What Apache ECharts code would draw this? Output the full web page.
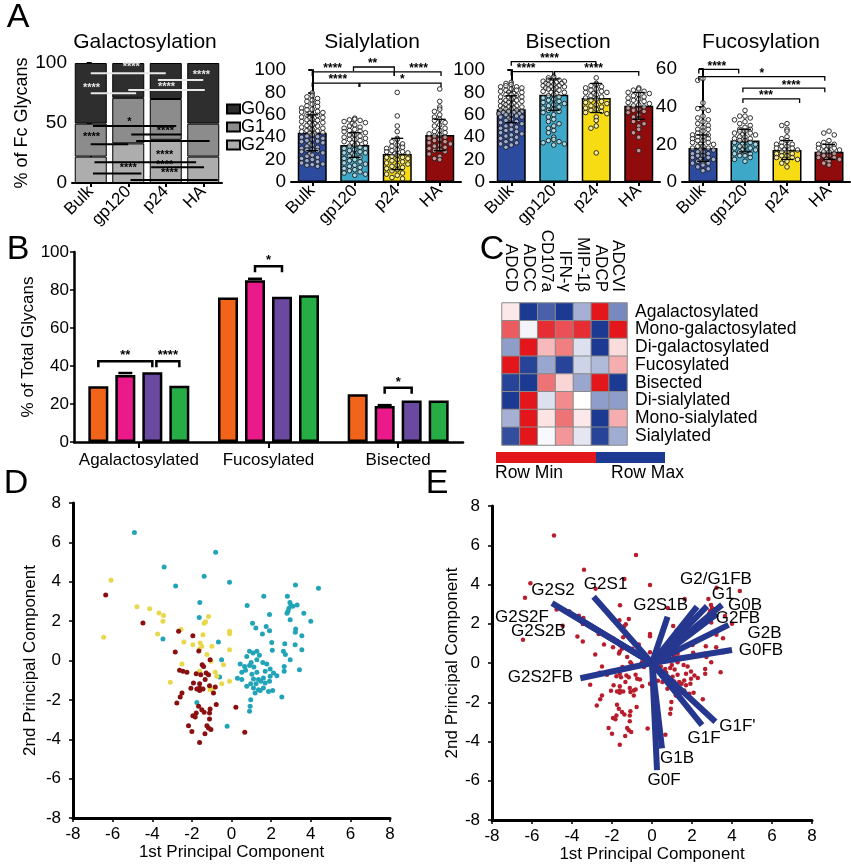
<!DOCTYPE html>
<html><head><meta charset="utf-8">
<script src="https://cdn.jsdelivr.net/npm/echarts@6/dist/echarts.min.js"></script>
<style>html,body{margin:0;padding:0;background:#fff}#c{width:851px;height:866px}</style>
</head><body><div id="c"></div>
<script>
const FONT = 'Arial, "Liberation Sans", Helvetica, sans-serif';

// ---------- Panel A ----------
const groupsA = ['Bulk', 'gp120', 'p24', 'HA'];
const galG2 = [22, 33, 36, 22];
const galG1 = [27.5, 38, 34, 27.5];
const galG0 = [50.5, 29, 30, 50.5];

const sialMean = [44, 33, 25, 42];
const sialSD = [16, 11, 14, 14];
const sialBulk = [79.5,77,76,74.5,73,72,71,69.5,68,67.5,66,65,64.5,63,62.5,62,61,60,60,59.5,58,57.5,57,56,55.5,55,54,53,52.5,52,51,50.5,50,49,48,47.5,47,46,45.5,45,44,43.5,43,42,41,40.5,40,39,38,37,36.5,36,35,34,33,32,31,30,29,28.5,28,27,26,25,24,23,22,21,20,19,18,17,16,15.5,15,14];
const sialGp120 = [57,56,55.5,55,54,53,52,51,50,49,48,47,46,45.5,45,44,43,42,42,41,40,39,38,38,37,36,35,35,34,33,32,31,30,30,29,28,27,26,26,25,24,23,22,21,20,19,18,17,16,15,14,13,12,11,10,9,8,7,6];
const sialP24 = [80,59,50,45,39,38,36,34,33,32,31,30,29,28,27,27,26,25,24,23,22,22,21,20,19,18,17,16,15,14,13,12,11,10,8,7,6,4,3];
const sialHA = [83,72,67,65,63,60,58,56,55,53,51,50,48,46,45,44,43,42,41,40,39,38,37,36,35,34,33,32,31,30,29,28,27,25,23,21,20];

const bisMean = [65, 78, 75, 68];
const bisSD = [12, 14, 13, 12];
const bisBulk = [89,88,87,86,85,85,84,83,82,82,81,80,80,79,78,78,77,76,76,75,75,74,73,73,72,72,71,70,70,69,69,68,68,67,67,66,66,65,65,64,64,63,63,62,62,61,61,60,60,59,58,58,57,56,55,54,53,52,51,50,49,48,47,46,45,44,43,42,41,40,39,38,36,35,34,33,31];
const bisGp120 = [94,93,92,91,91,90,90,89,89,88,88,87,87,86,86,85,85,84,84,83,83,82,81,80,80,79,78,77,76,75,74,73,72,71,70,69,68,67,66,65,64,63,62,60,58,56,54,52,50,48,46,44,40,38,37,36,35,34,33];
const bisP24 = [93,88,87,86,85,84,83,82,81,80,80,79,78,77,76,75,74,73,72,71,70,69,68,67,66,65,64,63,62,61,58,55,50,48,26];
const bisHA = [84,83,82,81,80,79,78,77,76,75,74,73,72,71,70,69,68,67,66,65,64,63,62,60,58,56,54,52,50,47,44,40,28];

const fucMean = [18, 22, 17, 16];
const fucSD = [7, 6, 5, 4];
const fucBulk = [55,54,42,39,39,38,35,34,33,32,31,30,29,28,28,27,26,25,25,24,24,23,23,22,22,21,21,20,20,19,19,18,18,17,17,16,16,15,15,14,14,13,13,12,12,11,11,10,10,9,8,7,6];
const fucGp120 = [38,35,35,34,33,32,31,30,29,28,28,27,27,26,26,25,25,24,24,23,23,22,22,21,21,20,20,19,19,18,18,17,17,16,16,15,15,14,14,13,12,11];
const fucP24 = [31,30,28,27,24,23,22,21,20,20,19,19,18,18,17,17,16,16,15,15,14,14,13,13,12,12,11,10,8];
const fucHA = [27,26,25,22,21,20,20,19,19,18,18,17,17,16,16,15,15,14,14,13,13,12,12,11,10,9];

// significance brackets: [x from, x to, y, label x] (category units)
const galSigLines = [[0,2,91.4,0],[1.79,3.0,85.8,0],[1.0,3.04,77.5,0],[0,1.21,74.7,0],
  [0.06,2.28,47.5,1],[1.08,2.41,40.5,1],[1.21,3.17,35,1],[0,1.0,32.2,1],[0.1,2.81,17.2,1],[1.61,3.02,13.1,1],[0.06,1.35,8,1],[1.06,3.39,2.5,1]];
const galSigLabels = [[1.08,97,0],[2.95,90,0],[0.02,79,0],[2.02,79.7,0],
  [1.03,51,1],[1.99,43.3,1],[0.02,38.6,1],[1.97,23.3,1],[1.97,15,1],[1.0,12.2,1],[2.1,8,1]];
const galSigText = ['****','****','****','****','*','****','****','****','****','****','****'];

const sialSig = [[0.97,1.93,102.7,1.42],[0,1.93,98.3,0.48],[1.93,3.03,98.3,2.5],[0,1.1,88.3,0.6],[1.12,3.03,88.3,2.12]];
const sialSigText = ['**','****','****','****','*'];
const bisSig = [[0,1.99,107.4,0.9],[0,0.98,98.5,0.35],[1.02,3.0,98.5,1.94]];
const bisSigText = ['****','****','****'];
const fucSig = [[-0.1,0.85,59.8,0.33],[-0.1,2.9,55.9,1.4],[0.95,2.9,49.8,2.1],[0.95,2.3,44.1,1.5]];
const fucSigText = ['****','*','****','***'];

// ---------- Panel B ----------
const bCats = ['Agalactosylated', 'Fucosylated', 'Bisected'];
const bOrange = [29.3, 76.1, 25.1];
const bPink = [35.3, 85.1, 18.9];
const bPinkSD = [1.0, 0.8, 0.5];
const bPurple = [36.7, 76.5, 21.9];
const bGreen = [29.6, 77.2, 21.9];
// [category, bar from, bar to, y]
const bSig = [[0,0,2,42.5],[0,2.15,3,42.5],[1,1,2,92.5],[2,1,2,28.5]];
const bSigText = ['**','****','*','*'];

// ---------- Panel C ----------
const hmCols = ['ADCD','ADCC','CD107a','IFN-γ','MIP-1β','ADCP','ADCVI'];
const hmRows = ['Agalactosylated','Mono-galactosylated','Di-galactosylated','Fucosylated','Bisected','Di-sialylated','Mono-sialylated','Sialylated'];
const hmValues = [
  [-0.1, 1, 0.8, 1, 0.4, -1, 0.6],
  [-0.7, 0.05, -0.9, -0.75, -0.9, 1, -1],
  [0.5, -1, -0.3, -0.55, 0.15, 1, -0.15],
  [-1, 0.95, 0.45, 0.95, 0.22, 0.35, -0.35],
  [0.95, 1, -0.6, -0.18, 0.45, -1, 1],
  [1, -1, 0.15, -0.5, 0.0, 0.5, 0.5],
  [0.4, -1, -0.12, -0.6, -0.1, 1, -0.35],
  [0.9, -1, 0.03, -0.45, 0.12, 0.95, 0.42]
];

// ---------- Panel D / E ----------
const dGp120 = [[-4.9,6.5],[-0.8,5.5],[-3.4,4.75],[-1.38,4.28],[-0.1,3.97],[-2.82,3.78],[-1.6,2.94],[-1.63,2.18],[-3.46,1.09],[-0.66,0.94],[-0.5,0.04],[-0.6,-0.84],[-1.75,-2.13],[-0.22,-3.34],
 [4.39,3.67],[3.23,3.83],[1.63,3.26],[2.82,3.26],[2.95,2.95],[3.0,2.8],[2.9,2.65],[2.85,2.5],[2.8,2.4],[3.1,2.75],[3.31,2.82],[0.79,2.8],[1.92,2.34],[3.65,2.4],[4.0,2.0],[2.96,2.07],[1.06,1.89],[1.23,1.65],[1.75,1.73],[1.92,1.51],[1.56,1.34],[3.24,1.6],[3.22,1.44],[3.55,1.26],[2.03,0.92],[2.69,0.85],[3.21,0.8],[2.06,0.52],[2.62,0.47],[3.55,0.55],[2.72,0.31],[2.96,0.04],[0.91,0.47],[1.09,0.38],[1.28,0.47],[1.41,0.27],[0.77,0.2],[0.99,-0.1],[1.28,0.04],[1.58,-0.1],[0.44,-0.18],[0.66,-0.3],[0.91,-0.26],[1.13,-0.33],[1.78,-0.18],[1.95,-0.43],[1.7,-0.55],[2.12,-0.64],[0.52,-0.6],[0.71,-0.5],[1.03,-0.7],[1.28,-0.6],[2.66,-0.3],[2.66,-0.55],[3.43,-0.47],[2.29,-0.77],[1.95,-0.8],[1.61,-0.89],[1.36,-0.97],[1.11,-0.94],[1.48,-1.06],[1.7,-1.14],[1.92,-1.06],[1.24,-1.18],[0.97,-1.18],[0.3,-0.9],[0.52,-0.97],[0.77,-1.31],[1.11,-1.4],[1.36,-1.48],[1.61,-1.4],[1.87,-1.57],[1.19,-1.65],[1.45,-1.52],[2.08,-1.52],[2.54,-1.85],[0.97,-1.99],[0.94,-2.33],[0.91,-2.58]];
const dP24 = [[-6.08,4.07],[-6.45,1.18],[-4.77,2.73],[-4.13,2.63],[-3.66,2.41],[-3.43,2.29],[-3.46,1.99],[-3.73,1.35],[-2.55,1.57],[-2.4,0.94],[-1.95,0.8],[-1.58,0.89],[-1.5,0.72],[-1.61,0.58],[-1.16,2.24],[-1.38,1.89],[-1.31,1.97],[-1.44,1.31],[-0.99,0.72],[-0.1,1.48],[-0.1,1.36],[-0.1,0.55],[-1.24,0.3],[-1.03,-0.04],[-0.4,-0.21],[-2.5,-0.18],[-1.61,-0.55],[-0.82,-0.6],[-0.74,-0.8],[-0.49,-1.18],[-0.1,-1.06],[-3.09,-1.11],[-1.08,-1.48],[-0.91,-1.4]];
const dHA = [[-6.35,3.33],[-4.47,1.9],[-2.67,1.48],[-1.95,1.26],[-1.65,0.48],[-2.84,0.43],[-1.08,0.04],[-1.48,-0.21],[-1.41,-0.3],[-2.62,-0.5],[-2.45,-0.55],[-2.25,-0.6],[-1.78,-0.67],[-1.55,-0.72],[-1.28,-0.64],[-1.16,-0.72],[-1.33,-0.97],[-1.92,-1.14],[-1.61,-1.18],[-2.05,-1.41],[-1.75,-1.45],[-1.61,-1.52],[-1.44,-1.45],[-1.11,-1.28],[-1.61,-1.4],[-0.91,-1.65],[-0.82,-1.35],[-2.5,-1.65],[-2.59,-1.85],[-2.76,-2.16],[-0.77,-2.24],[-1.66,-2.33],[-1.5,-2.5],[-1.08,-2.46],[-1.11,-2.67],[-1.78,-2.67],[-1.83,-2.87],[-1.95,-2.8],[-1.38,-2.63],[-1.11,-2.97],[-2.17,-3.31],[-2.0,-3.6],[-1.24,-3.31],[-1.16,-3.43],[-1.04,-3.51],[-1.34,-3.72],[-1.61,-4.16],[0.22,-2.38],[0.67,-3.65]];

const loadNames = ['G2S2','G2S2F','G2S2B','G2S2FB','G2S1','G2S1B','G2/G1FB','G1','G0B','G2FB','G2B','G0FB','G1F\'','G1F','G1B','G0F'];
const loadX = [-5.0,-4.25,-3.58,-3.58,-2.92,0.78,2.25,2.75,3.5,3.25,3.83,4.0,3.17,2.5,0.5,0.25];
const loadY = [3.05,2.62,2.19,-0.78,3.38,2.36,2.87,2.9,2.96,2.5,1.94,0.66,-2.99,-3.16,-4.35,-5.46];

// ---------- styles ----------
const groupColors = ['#2c4a9e', '#3ea8c8', '#f7dc14', '#900c0c'];
const bColors = ['#f26419', '#ea1a8a', '#6a4aa0', '#26ad45'];
const labelOffsets = { 'G2S2':[1,-13], 'G2S2F':[-45,6], 'G2S2B':[-42,11], 'G2S2FB':[-40,-1], 'G2S1':[12,-12],
  'G2S1B':[-7,-11], 'G2/G1FB':[19,-27], 'G1':[16,-12], 'G0B':[23,0], 'G2FB':[21,4], 'G2B':[36,8], 'G0FB':[29,0],
  'G1F\'':[22,5], 'G1F':[2,13], 'G1B':[15,10], 'G0F':[7,10] };

function swarm(groups, bin, step, maxOff) {
  const out = [];
  const order = [0,-1,1,-2,2,-0.5,0.5,-1.5,1.5,-2.5,2.5];
  groups.forEach((vals, gi) => {
    const counts = {};
    vals.forEach(v => {
      const b = Math.round(v / bin);
      const k = counts[b] || 0; counts[b] = k + 1;
      let off = order[k % order.length] * step;
      off = Math.max(-maxOff, Math.min(maxOff, off));
      out.push([gi + off, v]);
    });
  });
  return out;
}

const axLine = { show: true, lineStyle: { color: '#000', width: 2 } };
const axTick = { show: true, length: 4, lineStyle: { color: '#000', width: 2 } };
function catX(g) {
  return { type: 'category', gridIndex: g, data: groupsA, axisLine: axLine,
    axisTick: { show: true, alignWithLabel: true, length: 4, lineStyle: { color: '#000', width: 2 } },
    axisLabel: { rotate: 45, fontSize: 17, color: '#000', margin: 6, interval: 0, fontFamily: FONT } };
}
function hidX(g) { return { type: 'value', gridIndex: g, min: -0.5, max: 3.5, show: false }; }
function valY(g, max, interval, name, gap) {
  const a = { type: 'value', gridIndex: g, min: 0, max, interval, splitLine: { show: false }, axisLine: axLine,
    axisTick: axTick, axisLabel: { fontSize: 19, color: '#000', margin: 5, fontFamily: FONT } };
  if (name) { a.name = name; a.nameLocation = 'middle'; a.nameGap = gap; a.nameTextStyle = { fontSize: 18, color: '#000', fontFamily: FONT }; }
  return a;
}
function pcAxis(g, name, gap, isX) {
  return { type: 'value', gridIndex: g, min: -8, max: 8, interval: 2, splitLine: { show: false },
    axisLine: { show: true, onZero: false, lineStyle: { color: '#000', width: 3 } },
    axisTick: { show: true, length: 4, lineStyle: { color: '#000', width: 1.5 } },
    axisLabel: { fontSize: 17, color: '#000', margin: isX ? 8 : 12, fontFamily: FONT },
    name, nameLocation: 'middle', nameGap: gap, nameTextStyle: { fontSize: 17, color: '#000', fontFamily: FONT } };
}

function meanBars(xi, yi, means) {
  return { type: 'bar', xAxisIndex: xi, yAxisIndex: yi, barWidth: 29, z: 2,
    data: means.map((v, i) => ({ value: v, itemStyle: { color: groupColors[i] } })),
    itemStyle: { borderColor: '#000', borderWidth: 1.5 } };
}
function dots(xi, yi, data) {
  return { type: 'scatter', xAxisIndex: xi, yAxisIndex: yi, data, symbolSize: 4.6, z: 3, silent: true,
    itemStyle: { color: 'rgba(255,255,255,0.55)', borderColor: '#1a1a1a', borderWidth: 0.9, opacity: 1 } };
}
function errBars(xi, yi, means, sds) {
  return { type: 'custom', xAxisIndex: xi, yAxisIndex: yi, z: 4, silent: true,
    data: means.map((m, i) => [i, m, sds[i]]),
    renderItem: function (params, api) {
      const x = api.value(0), m = api.value(1), s = api.value(2);
      const p1 = api.coord([x, m + s]), p2 = api.coord([x, m - s]);
      const w = 6;
      return { type: 'group', children: [
        { type: 'line', shape: { x1: p1[0], y1: p1[1], x2: p2[0], y2: p2[1] }, style: { stroke: '#000', lineWidth: 1.3 } },
        { type: 'line', shape: { x1: p1[0] - w, y1: p1[1], x2: p1[0] + w, y2: p1[1] }, style: { stroke: '#000', lineWidth: 1.3 } },
        { type: 'line', shape: { x1: p2[0] - w, y1: p2[1], x2: p2[0] + w, y2: p2[1] }, style: { stroke: '#000', lineWidth: 1.3 } }
      ] };
    } };
}
function brackets(xi, yi, rows, texts) {
  return { type: 'custom', xAxisIndex: xi, yAxisIndex: yi, z: 10, silent: true, data: rows,
    renderItem: function (params, api) {
      const a = api.coord([api.value(0), api.value(2)]);
      const b = api.coord([api.value(1), api.value(2)]);
      const l = api.coord([api.value(3), api.value(2)]);
      const t = 4;
      return { type: 'group', children: [
        { type: 'polyline', shape: { points: [[a[0], a[1] + t], [a[0], a[1]], [b[0], b[1]], [b[0], b[1] + t]] },
          style: { stroke: '#000', lineWidth: 1.3, fill: null } },
        { type: 'text', x: l[0], y: a[1] + 3, style: { text: texts[params.dataIndex], fill: '#000',
          font: 'bold 12px ' + FONT, align: 'center', verticalAlign: 'bottom', textAlign: 'center', textVerticalAlign: 'bottom' } }
      ] };
    } };
}

const series = [];
// Galactosylation stacked bars
[['G2', galG2, '#adadad'], ['G1', galG1, '#8c8c8c'], ['G0', galG0, '#2e2e2e']].forEach(([n, d, c]) => {
  series.push({ type: 'bar', name: n, stack: 'gal', xAxisIndex: 0, yAxisIndex: 0, barWidth: 32, data: d,
    itemStyle: { color: c, borderColor: '#000', borderWidth: 1 } });
});
series.push({ type: 'custom', xAxisIndex: 1, yAxisIndex: 0, z: 10, silent: true, data: galSigLines,
  renderItem: function (params, api) {
    const a = api.coord([api.value(0), api.value(2)]), b = api.coord([api.value(1), api.value(2)]);
    return { type: 'line', shape: { x1: a[0], y1: a[1], x2: b[0], y2: b[1] },
      style: { stroke: api.value(3) ? '#000' : '#e8e8e8', lineWidth: 2 } };
  } });
series.push({ type: 'custom', xAxisIndex: 1, yAxisIndex: 0, z: 11, silent: true, data: galSigLabels,
  renderItem: function (params, api) {
    const p = api.coord([api.value(0), api.value(1)]);
    return { type: 'text', x: p[0], y: p[1], style: { text: galSigText[params.dataIndex],
      fill: api.value(2) ? '#000' : '#e8e8e8', font: 'bold 11px ' + FONT, align: 'center', verticalAlign: 'middle',
      textAlign: 'center', textVerticalAlign: 'middle' } };
  } });

// Sialylation / Bisection / Fucosylation
const dotPanels = [
  [2, 3, 1, sialMean, sialSD, [sialBulk, sialGp120, sialP24, sialHA], 4.5, sialSig, sialSigText],
  [4, 5, 2, bisMean, bisSD, [bisBulk, bisGp120, bisP24, bisHA], 4.5, bisSig, bisSigText],
  [6, 7, 3, fucMean, fucSD, [fucBulk, fucGp120, fucP24, fucHA], 2.6, fucSig, fucSigText]
];
dotPanels.forEach(([cx, vx, y, m, sd, groups, bin, sig, sigT]) => {
  series.push(meanBars(cx, y, m));
  series.push(dots(vx, y, swarm(groups, bin, 0.125, 0.29)));
  series.push(errBars(vx, y, m, sd));
  series.push(brackets(vx, y, sig, sigT));
});

// Panel B
[['Orange', bOrange], ['Pink', bPink], ['Purple', bPurple], ['Green', bGreen]].forEach(([n, d], j) => {
  series.push({ type: 'bar', name: n, xAxisIndex: 8, yAxisIndex: 4, barWidth: 20, barGap: '35%', data: d,
    itemStyle: { color: bColors[j], borderColor: '#000', borderWidth: 2.5 } });
});
const BOFF = 27;
series.push({ type: 'custom', xAxisIndex: 8, yAxisIndex: 4, z: 5, silent: true,
  data: bPink.map((v, i) => [i, v, bPinkSD[i]]),
  renderItem: function (params, api) {
    const p1 = api.coord([api.value(0), api.value(1) + api.value(2)]);
    const x = p1[0] - 0.5 * BOFF;
    return { type: 'line', shape: { x1: x - 7, y1: p1[1], x2: x + 7, y2: p1[1] }, style: { stroke: '#000', lineWidth: 2.5 } };
  } });
series.push({ type: 'custom', xAxisIndex: 8, yAxisIndex: 4, z: 10, silent: true, data: bSig,
  renderItem: function (params, api) {
    const c = api.coord([api.value(0), api.value(3)]);
    const xa = c[0] + (api.value(1) - 1.5) * BOFF, xb = c[0] + (api.value(2) - 1.5) * BOFF, y = c[1];
    return { type: 'group', children: [
      { type: 'polyline', shape: { points: [[xa, y + 6], [xa, y], [xb, y], [xb, y + 6]] }, style: { stroke: '#000', lineWidth: 2.5, fill: null } },
      { type: 'text', x: (xa + xb) / 2, y: y + 1, style: { text: bSigText[params.dataIndex], fill: '#000', font: 'bold 13px ' + FONT,
        align: 'center', verticalAlign: 'bottom', textAlign: 'center', textVerticalAlign: 'bottom' } }
    ] };
  } });

// Panel C heatmap
const hmData = [];
hmValues.forEach((row, r) => row.forEach((v, c) => hmData.push([c, r, v])));
const hmIndex = series.length;
series.push({ type: 'heatmap', xAxisIndex: 9, yAxisIndex: 5, data: hmData,
  itemStyle: { borderColor: '#8a8a8a', borderWidth: 1 } });

// Panel D
[[dGp120, '#22a4b8'], [dP24, '#e8d94c'], [dHA, '#8a1010']].forEach(([d, c]) => {
  series.push({ type: 'scatter', xAxisIndex: 10, yAxisIndex: 6, data: d, symbolSize: 5, itemStyle: { color: c, opacity: 1 } });
});
// Panel E
series.push({ type: 'scatter', xAxisIndex: 11, yAxisIndex: 7, data: dGp120.concat(dP24, dHA), symbolSize: 4.5,
  itemStyle: { color: '#b81d2d', opacity: 1 } });
series.push({ type: 'custom', xAxisIndex: 11, yAxisIndex: 7, z: 5, silent: true,
  data: loadNames.map((n, i) => [loadX[i], loadY[i]]),
  renderItem: function (params, api) {
    const o = api.coord([0, 0]), p = api.coord([api.value(0), api.value(1)]);
    const name = loadNames[params.dataIndex];
    const off = labelOffsets[name] || [0, 0];
    return { type: 'group', children: [
      { type: 'line', shape: { x1: o[0], y1: o[1], x2: p[0], y2: p[1] }, style: { stroke: '#26378f', lineWidth: 6 } },
      { type: 'text', x: p[0] + off[0], y: p[1] + off[1], z2: 10, style: { text: name, fill: '#000', font: '17px ' + FONT,
        align: 'center', verticalAlign: 'middle', textAlign: 'center', textVerticalAlign: 'middle' } }
    ] };
  } });

function gtext(x, y, text, size, align) {
  return { type: 'text', x, y, style: { text, fill: '#000', font: size + 'px ' + FONT, align: align || 'center',
    verticalAlign: 'middle', textAlign: align || 'center', textVerticalAlign: 'middle' } };
}

const option = {
  animation: false,
  textStyle: { fontFamily: FONT },
  grid: [
    { left: 72, top: 63, width: 150, height: 120 },
    { left: 291, top: 70, width: 170, height: 112 },
    { left: 490, top: 70, width: 170, height: 112 },
    { left: 682, top: 69, width: 168, height: 113 },
    { left: 74, top: 252, width: 389, height: 190 },
    { left: 502, top: 303, width: 125, height: 142 },
    { left: 73, top: 503, width: 317, height: 315 },
    { left: 492, top: 506, width: 320, height: 314 }
  ],
  xAxis: [
    catX(0), hidX(0), catX(1), hidX(1), catX(2), hidX(2), catX(3), hidX(3),
    { type: 'category', gridIndex: 4, data: bCats, axisLine: { show: true, lineStyle: { color: '#000', width: 2.5 } },
      axisTick: { show: true, alignWithLabel: true, length: 6, lineStyle: { color: '#000', width: 2 } },
      axisLabel: { fontSize: 17, color: '#000', margin: 10, interval: 0, fontFamily: FONT } },
    { type: 'category', gridIndex: 5, position: 'top', data: hmCols, axisLine: { show: false }, axisTick: { show: false },
      axisLabel: { rotate: 90, fontSize: 17, color: '#000', margin: 11, interval: 0, fontFamily: FONT } },
    pcAxis(6, '1st Principal Component', 26, true),
    pcAxis(7, '1st Principal Component', 26, true)
  ],
  yAxis: [
    valY(0, 100, 50, '% of Fc Glycans', 34),
    valY(1, 100, 20), valY(2, 100, 20), valY(3, 60, 20),
    { type: 'value', gridIndex: 4, min: 0, max: 100, interval: 20, splitLine: { show: false },
      axisLine: { show: true, lineStyle: { color: '#000', width: 2.5 } },
      axisTick: { show: true, length: 4, lineStyle: { color: '#000', width: 1.5 } },
      axisLabel: { fontSize: 17, color: '#000', margin: 5, fontFamily: FONT },
      name: '% of Total Glycans', nameLocation: 'middle', nameGap: 33, nameTextStyle: { fontSize: 17, color: '#000', fontFamily: FONT } },
    { type: 'category', gridIndex: 5, position: 'right', inverse: true, data: hmRows, axisLine: { show: false }, axisTick: { show: false },
      axisLabel: { fontSize: 17.5, color: '#000', margin: 8, interval: 0, fontFamily: FONT } },
    pcAxis(6, '2nd Principal Component', 34, false),
    pcAxis(7, '2nd Principal Component', 30, false)
  ],
  legend: { data: ['G0', 'G1', 'G2'], orient: 'vertical', left: 226, top: 100, padding: 0, itemWidth: 13, itemHeight: 9, itemGap: 0,
    textStyle: { fontSize: 18, color: '#000', lineHeight: 14, padding: [0, 0, 0, -4] }, selectedMode: false, icon: 'rect' },
  visualMap: { type: 'continuous', show: false, seriesIndex: hmIndex, min: -1, max: 1, dimension: 2,
    inRange: { color: ['#e3161c', '#ffffff', '#1d3a93'] } },
  series,
  graphic: [
    gtext(18, 18, 'A', 34), gtext(18, 250, 'B', 34), gtext(492, 250, 'C', 34), gtext(16, 484, 'D', 34), gtext(437, 484, 'E', 34),
    gtext(145, 42, 'Galactosylation', 21), gtext(372, 42, 'Sialylation', 21), gtext(568, 42, 'Bisection', 21), gtext(761, 42, 'Fucosylation', 21),
    { type: 'rect', shape: { x: 496, y: 452, width: 100, height: 11 }, style: { fill: '#e3161c' } },
    { type: 'rect', shape: { x: 596, y: 452, width: 69, height: 11 }, style: { fill: '#1d3a93' } },
    gtext(495, 473, 'Row Min', 17.5, 'left'), gtext(611, 473, 'Row Max', 17.5, 'left')
  ]
};

const chart = echarts.init(document.getElementById('c'), null, { renderer: 'canvas' });
chart.setOption(option);
</script></body></html>
